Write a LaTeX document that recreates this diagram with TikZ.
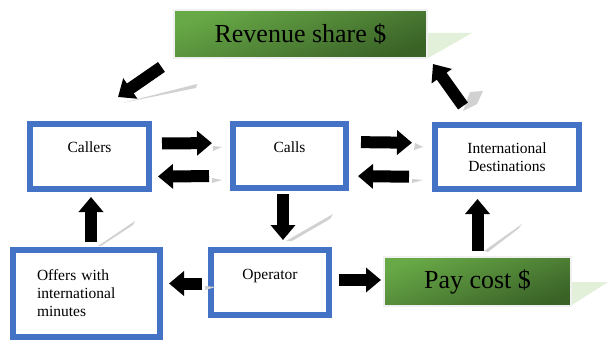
\documentclass[tikz,border=0pt]{standalone}
\usepackage{fontspec}
\setmainfont{Liberation Serif}
\usetikzlibrary{arrows.meta, positioning}
\definecolor{boxblue}{HTML}{4472C4}
\definecolor{greenlight}{HTML}{68A947}
\definecolor{greendark}{HTML}{3A6227}
\definecolor{greenshade}{HTML}{E2EFD9}

\begin{document}
\begin{tikzpicture}[
            x=1pt, y=-1pt,
            bluebox/.style={rectangle, draw=boxblue, line width=6pt, inner sep=0pt, font=\fontsize{15.5}{18}\selectfont},
            onebox/.style={bluebox, text height=12pt, text depth=19pt},
            greenbox/.style={rectangle, draw=black!6, line width=2pt, top color=greenlight, bottom color=greendark, shading angle=20, font=\fontsize{26}{30}\selectfont},
            arrow/.style={line width=12pt, -{Triangle[length=15pt, width=24pt]}},
            grayshadow/.style={fill=black!18}
            ]
            \useasboundingbox (0,0) rectangle (608,342);

            % light green shadows of the money boxes
            \fill [greenshade] (428,33) -- (472,33) -- (428,58) -- cycle;
            \fill [greenshade] (572,282) -- (608,282) -- (572,305) -- cycle;

            \node (callers) [onebox, minimum width=119pt, minimum height=65pt] at (89.5,156.5) {Callers};
            \node (calls) [onebox, minimum width=113pt, minimum height=64pt] at (289.5,156) {Calls};
            \node (intl) [bluebox, minimum width=144pt, minimum height=64pt, align=center] at (507,157) {International\\Destinations};
            \node (offers) [bluebox, minimum width=147pt, minimum height=87pt, text width=99pt, align=left] at (86.5,293.5) {Offers with\\international\\minutes};
            \node (operator) [onebox, minimum width=118pt, minimum height=65pt] at (270,282.5) {Operator};
            \node (rev) [greenbox, minimum width=253pt, minimum height=48pt] at (300.5,34) {Revenue share \$};
            \node (pay) [greenbox, minimum width=187pt, minimum height=49pt] at (477.5,281.5) {Pay cost \$};

            % gray arrow shadows
            \fill [grayshadow] (122,103) -- (197,84) -- (196,88) -- cycle;
            \fill [grayshadow] (463,111) -- (470,92) -- (483,91) -- (477,104) -- cycle;
            \fill [grayshadow] (286,241) -- (333,214) -- (330,219) -- (292,241) -- cycle;
            \fill [grayshadow] (484,251) -- (522,224) -- (518,229) -- (488,252) -- cycle;
            \fill [grayshadow] (98,246) -- (135,221) -- (133,225) -- (101,246) -- cycle;
            \fill [grayshadow] (213,146) -- (222,147) -- (213,151) -- cycle;
            \fill [grayshadow] (212,178) -- (222,180) -- (212,183) -- cycle;
            \fill [grayshadow] (415,143) -- (423,147) -- (414,150) -- cycle;
            \fill [grayshadow] (412,179) -- (423,180) -- (412,183) -- cycle;
            \fill [grayshadow] (205,286) -- (216,287) -- (205,290) -- cycle;

            \draw [arrow, shorten <=10pt, shorten >=18pt] ([yshift=13pt]callers.east) -- ([yshift=13pt]calls.west);
            \draw [arrow, shorten <=21pt, shorten >=6pt] ([yshift=-20pt]calls.west) -- ([yshift=-20pt]callers.east);
            \draw [arrow, shorten <=12pt, shorten >=20pt] ([yshift=14pt]calls.east) -- ([yshift=14pt]intl.west);
            \draw [arrow, shorten <=23pt, shorten >=9pt] ([yshift=-20pt]intl.west) -- ([yshift=-20pt]calls.east);
            \draw [arrow, shorten <=3pt, shorten >=7pt] ([xshift=-6.5pt]calls.south) -- ([xshift=13pt]operator.north);
            \draw [arrow, shorten <=7pt, shorten >=2pt] ([yshift=2.5pt]operator.east) -- ([yshift=1.5pt]pay.west);
            \draw [arrow, shorten <=6pt, shorten >=6pt] ([yshift=-1pt]operator.west) -- ([yshift=10pt]offers.east);
            \draw [arrow, shorten <=5pt, shorten >=5pt] ([xshift=4.5pt]offers.north) -- ([xshift=1.5pt]callers.south);
            \draw [arrow, shorten <=5pt, shorten >=7pt] (pay.north) -- ([xshift=-29.5pt]intl.south);
            \draw [arrow, shorten <=14pt] (rev.south west) -- ([xshift=28.5pt, yshift=24pt]callers.north);
            \draw [arrow] ([xshift=-44pt, yshift=16pt]intl.north) -- ([xshift=5pt, yshift=-5pt]rev.south east);
        \end{tikzpicture}
\end{document}
